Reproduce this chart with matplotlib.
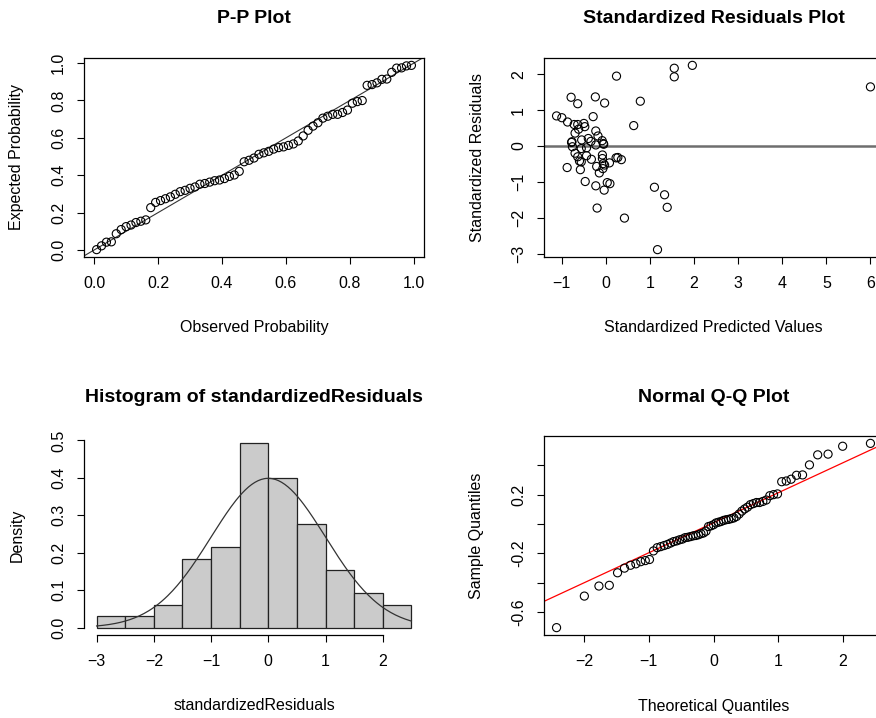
import matplotlib
matplotlib.use("Agg")
import matplotlib.pyplot as plt
import matplotlib.transforms as mtransforms
import numpy as np
from statistics import NormalDist

plt.rcParams['font.family'] = ['Liberation Sans', 'DejaVu Sans']

# Residus standardises (tries), avec la valeur predite associee
stdResiduals = [-2.89, -2.01, -1.73, -1.71, -1.36, -1.23, -1.15, -1.11, -1.05, -1.02,
                -0.99, -0.75, -0.66, -0.63, -0.60, -0.57, -0.53, -0.49, -0.47, -0.44,
                -0.42, -0.38, -0.37, -0.35, -0.33, -0.32, -0.30, -0.27, -0.25, -0.20,
                -0.07, -0.05, -0.02, 0.03, 0.05, 0.07, 0.10, 0.12, 0.13, 0.15,
                0.17, 0.21, 0.28, 0.36, 0.42, 0.47, 0.54, 0.57, 0.60, 0.60,
                0.63, 0.67, 0.79, 0.82, 0.84, 1.18, 1.20, 1.25, 1.36, 1.37,
                1.65, 1.93, 1.95, 2.17, 2.25]
predictedValues = [1.17, 0.42, -0.20, 1.39, 1.33, -0.04, 1.10, -0.23, 0.09, 0.03,
                   -0.47, -0.15, -0.58, -0.07, -0.88, -0.21, -0.03, -0.06, 0.08, -0.56,
                   -0.60, 0.35, -0.33, -0.08, 0.23, 0.27, -0.64, -0.44, -0.08, -0.70,
                   -0.56, -0.44, -0.76, -0.23, -0.05, -0.06, -0.78, -0.77, -0.34, -0.085,
                   -0.55, -0.40, -0.18, -0.70, -0.23, -0.62, -0.48, 0.63, -0.64, -0.72,
                   -0.50, -0.87, -1.00, -0.29, -1.12, -0.64, -0.03, 0.78, -0.79, -0.24,
                   6.00, 1.55, 0.24, 1.55, 1.96]
residualSD = 0.2445

histBreaks = [-3.0, -2.5, -2.0, -1.5, -1.0, -0.5, 0.0, 0.5, 1.0, 1.5, 2.0, 2.5]
normMean = 0.0
normSD = 1.0

ppTicks = [0.0, 0.2, 0.4, 0.6, 0.8, 1.0]
resXTicks = [-1, 0, 1, 2, 3, 4, 5, 6]
resYTicks = [-3, -2, -1, 0, 1, 2]
histXTicks = [-3, -2, -1, 0, 1, 2]
histYTicks = [0.0, 0.1, 0.2, 0.3, 0.4, 0.5]
qqXTicks = [-2, -1, 0, 1, 2]
qqYTicks = [-0.6, -0.4, -0.2, 0.0, 0.2, 0.4]
qqYLabels = ["-0.6", "", "-0.2", "", "0.2", ""]

TAILLE = 11.5

fig = plt.figure(figsize=(8.76, 7.18), dpi=100)


def boite(gauche, haut, droite, bas):
	return fig.add_axes([gauche / 876, 1 - bas / 718, (droite - gauche) / 876, (bas - haut) / 718])


def limitesR(valeurs):
	lo, hi = min(valeurs), max(valeurs)
	d = 0.04 * (hi - lo)
	return lo - d, hi + d


def habille(ax, titre, xlab, ylab, xticks, yticks, ylabels=None):
	ax.set_xticks(xticks)
	ax.set_yticks(yticks)
	if ylabels is not None:
		ax.set_yticklabels(ylabels)
	ax.tick_params(direction='out', length=5, width=0.8, labelsize=TAILLE)
	ax.tick_params(axis='x', pad=9)
	ax.tick_params(axis='y', pad=8)
	for lab in ax.get_yticklabels():
		lab.set_rotation(90)
		lab.set_verticalalignment('center')
	for sp in ax.spines.values():
		sp.set_linewidth(0.9)
	ax.text(0.5, 1, titre, transform=mtransforms.offset_copy(ax.transAxes, fig=fig, y=39, units='dots'),
			ha='center', va='center', fontsize=14, fontweight='bold')
	ax.text(0.5, 0, xlab, transform=mtransforms.offset_copy(ax.transAxes, fig=fig, y=-71, units='dots'),
			ha='center', va='center', fontsize=TAILLE)
	ax.text(0, 0.5, ylab, transform=mtransforms.offset_copy(ax.transAxes, fig=fig, x=-67, units='dots'),
			ha='center', va='center', rotation=90, fontsize=TAILLE)


n = len(stdResiduals)
z = np.sort(np.array(stdResiduals))
probas = (np.arange(1, n + 1) - 0.5) / n
loi = NormalDist()

# P-P plot
axPP = boite(84, 58, 424, 257)
ppObs = probas
ppExp = np.array([loi.cdf(v) for v in z])
axPP.scatter(ppObs, ppExp, s=34, facecolors='none', edgecolors='black', linewidths=0.8, zorder=3)
axPP.axline((0, 0), slope=1, color='#333333', linewidth=0.8)
axPP.set_xlim(limitesR(ppObs))
axPP.set_ylim(limitesR(ppExp))
habille(axPP, "P-P Plot", "Observed Probability", "Expected Probability", ppTicks, ppTicks,
		[f"{t:.1f}" for t in ppTicks])
axPP.set_xticklabels([f"{t:.1f}" for t in ppTicks])

# Residus standardises vs valeurs predites
axRes = boite(544, 58, 883, 257)
axRes.scatter(predictedValues, stdResiduals, s=34, facecolors='none', edgecolors='black', linewidths=0.8, zorder=3)
axRes.axhline(0, color='#6e6e6e', linewidth=1.8)
axRes.set_xlim(limitesR(predictedValues))
axRes.set_ylim(limitesR(stdResiduals))
habille(axRes, "Standardized Residuals Plot", "Standardized Predicted Values", "Standardized Residuals",
		resXTicks, resYTicks)

# Histogramme
axHist = boite(84, 436, 424, 635)
dens, _, _ = axHist.hist(stdResiduals, bins=histBreaks, density=True, color='#cbcbcb',
						 edgecolor='#222222', linewidth=0.9)
xs = np.linspace(histBreaks[0], histBreaks[-1], 200)
courbe = NormalDist(normMean, normSD)
axHist.plot(xs, [courbe.pdf(v) for v in xs], color='#333333', linewidth=0.9)
axHist.set_xlim(limitesR(histBreaks))
axHist.set_ylim(limitesR([0, max(dens)]))
habille(axHist, "Histogram of standardizedResiduals", "standardizedResiduals", "Density",
		histXTicks, histYTicks, [f"{t:.1f}" for t in histYTicks])
axHist.spines['top'].set_visible(False)
axHist.spines['right'].set_visible(False)
axHist.spines['left'].set_bounds(histYTicks[0], histYTicks[-1])
axHist.spines['bottom'].set_bounds(histXTicks[0], histXTicks[-1])

# Normal Q-Q
axQQ = boite(544, 436, 883, 635)
theo = np.array([loi.inv_cdf(p) for p in probas])
echant = z * residualSD
axQQ.scatter(theo, echant, s=34, facecolors='none', edgecolors='black', linewidths=0.8, zorder=3)
q1, q3 = np.quantile(echant, [0.25, 0.75])
x1, x3 = loi.inv_cdf(0.25), loi.inv_cdf(0.75)
pente = (q3 - q1) / (x3 - x1)
axQQ.axline((x1, q1), slope=pente, color='red', linewidth=0.9)
axQQ.set_xlim(limitesR(theo))
axQQ.set_ylim(limitesR(echant))
habille(axQQ, "Normal Q-Q Plot", "Theoretical Quantiles", "Sample Quantiles", qqXTicks, qqYTicks, qqYLabels)

fig.savefig("out.png", dpi=100)
